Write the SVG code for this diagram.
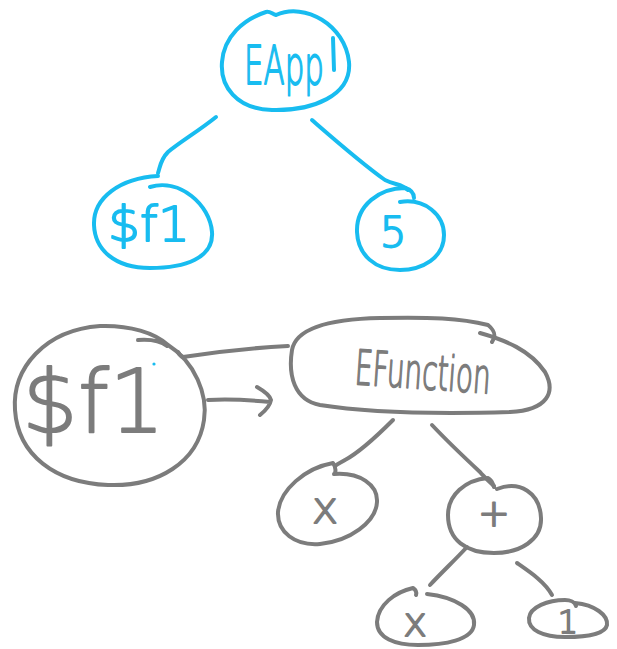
<svg xmlns="http://www.w3.org/2000/svg" width="617" height="649" viewBox="0 0 617 649">
  <style>
    .blue { stroke: #18bcf0; }
    .gray { stroke: #7c7c7c; }
    .ink { fill: none; stroke-width: 4; stroke-linecap: round; stroke-linejoin: round; }
    .tb, .tg { font-family: "DejaVu Sans", "Liberation Sans", sans-serif; font-weight: 200; stroke-linejoin: round; stroke-width: 1.8; }
    .tb { fill: #18bcf0; stroke: #18bcf0; }
    .tg { fill: #7c7c7c; stroke: #7c7c7c; }
  </style>
  <rect width="617" height="649" fill="#ffffff"/>

  <!-- edges between the nodes -->
  <g id="connectors">
    <path class="ink blue" d="M216,117 C200,130 180,142 168,152 C160,160 160,168 158,173"/>
    <path class="ink blue" d="M312,120 C335,140 360,162 385,180 C395,185 402,184 408,190"/>
    <path class="ink gray" d="M288,346 C250,348 215,352 183,357 C180,356 179,354 178,352"/>
    <path class="ink gray" d="M208,400 C228,399 250,400 270,402 M257,387 C264,391 270,396 271,400 C270,406 265,411 260,415"/>
    <path class="ink gray" d="M393,420 C378,435 360,452 345,460 C340,463 337,464 335,466"/>
    <path class="ink gray" d="M432,425 C448,442 465,458 480,472 C484,477 488,480 494,486"/>
    <path class="ink gray" d="M467,547 C455,560 442,572 430,585"/>
    <path class="ink gray" d="M517,563 C530,572 545,582 552,595"/>
  </g>

  <g id="node-eapp">
    <path class="ink blue" d="M276,15 C305,2 345,25 349,62 C352,96 312,111 272,110 C236,109 220,86 222,62 C224,36 244,19 266,12 C270,11 272,14 276,15"/>
    <path class="ink blue" d="M333,38 L334,70"/>
    <text class="tb" x="244" y="84" font-size="54" textLength="80" lengthAdjust="spacingAndGlyphs">EApp</text>
  </g>

  <g id="node-f1-blue">
    <path class="ink blue" d="M150,187 C180,178 210,205 212,232 C214,258 185,268 150,268 C115,268 95,250 94,225 C93,198 120,178 158,176"/>
    <text class="tb" x="108" y="241" font-size="48" textLength="82" lengthAdjust="spacingAndGlyphs">$f1</text>
  </g>

  <g id="node-5">
    <path class="ink blue" d="M400,202 C425,198 444,215 444,235 C444,258 422,270 400,270 C375,270 358,255 357,232 C356,205 380,188 405,188 C412,190 414,194 414,198"/>
    <text class="tb" x="393" y="247" font-size="42" text-anchor="middle">5</text>
  </g>

  <g id="node-f1">
    <path class="ink gray" d="M168,345 C195,362 208,395 204,420 C198,462 158,487 108,485 C55,483 18,455 15,410 C12,368 45,330 100,326 C130,325 155,333 168,345 M138,340 C152,339 162,342 167,346"/>
    <circle cx="154" cy="364" r="1.6" fill="#18bcf0"/>
    <text class="tg" x="22" y="432" font-size="88" textLength="143" lengthAdjust="spacingAndGlyphs" stroke-width="1.2">$f1</text>
  </g>

  <g id="node-efunction">
    <path class="ink gray" d="M480,333 C505,340 530,350 545,372 C556,392 548,410 510,412 C440,414 370,413 320,405 C294,400 288,375 292,350 C296,328 330,319 380,318 C430,317 460,318 488,325 C494,330 497,335 492,342"/>
    <text class="tg" x="354" y="384" font-size="48" textLength="136" lengthAdjust="spacingAndGlyphs" transform="rotate(4 354 384)">EFunction</text>
  </g>

  <g id="node-x1">
    <path class="ink gray" d="M334,474 C360,472 378,485 377,502 C376,522 350,541 320,544 C295,546 277,532 278,512 C280,490 305,468 333,463 C335,466 336,470 335,473"/>
    <text class="tg" x="325" y="523" font-size="44" text-anchor="middle">x</text>
  </g>

  <g id="node-plus">
    <path class="ink gray" d="M497,489 C520,480 540,493 541,518 C542,540 520,553 494,553 C466,553 448,540 448,515 C448,495 465,480 488,478 C492,480 493,484 494,487"/>
    <text class="tg" x="494" y="526" font-size="38" text-anchor="middle">+</text>
  </g>

  <g id="node-x2">
    <path class="ink gray" d="M427,594 C455,597 476,610 474,625 C472,640 445,645 418,645 C395,645 377,638 377,622 C378,605 395,592 413,588 C416,590 417,592 416,595"/>
    <text class="tg" x="415" y="636" font-size="40" text-anchor="middle">x</text>
  </g>

  <g id="node-one">
    <path class="ink gray" d="M575,603 C595,605 608,615 607,625 C605,635 585,637 565,637 C543,637 528,630 529,618 C530,607 548,600 565,600 C570,600 575,602 576,606"/>
    <text class="tg" x="568" y="633" font-size="32" text-anchor="middle">1</text>
  </g>
</svg>
